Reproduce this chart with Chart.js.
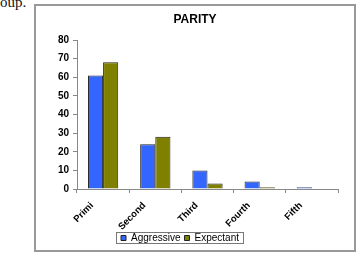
<!DOCTYPE html>
<html>
<head>
<meta charset="utf-8">
<script src="https://cdn.jsdelivr.net/npm/chart.js@4/dist/chart.umd.min.js"></script>
<style>
  html, body { margin: 0; padding: 0; background: #fff; }
  body { width: 359px; height: 254px; position: relative; overflow: hidden; }
  #cut-text {
    position: absolute; left: 0; top: -5px;
    font: 15px "Liberation Serif", "Times New Roman", serif; line-height: 1; color: #111;
  }
  #frame {
    position: absolute; left: 34px; top: 4px;
    width: 318px; height: 244px;
    border: 2px solid #999;
  }
</style>
</head>
<body>
<div id="cut-text">oup.</div>
<div id="frame"><canvas id="parity-chart" width="318" height="244"></canvas></div>
<script>
const categories = ['Primi', 'Second', 'Third', 'Fourth', 'Fifth'];
const aggressive = [61, 24, 10, 4, 1];
const expectant = [68, 28, 3, 1, 0];
const yTicks = [0, 10, 20, 30, 40, 50, 60, 70, 80];

const chartCanvas = document.getElementById('parity-chart');

// タイトルと凡例の位置を調整し、凡例に枠線を描く
const legendFrame = {
    id: 'legendFrame',
    afterLayout(chart) {
        const lg = chart.legend;
        lg.left -= 7;
        lg.right -= 7;
        lg.top += 3;
        lg.bottom += 3;
        const tb = chart.titleBlock;
        tb.left += 8;
        tb.right += 8;
    },
    afterDraw(chart) {
        const boxes = chart.legend.legendHitBoxes;
        if (!boxes || !boxes.length) return;
        const left = Math.min(...boxes.map(b => b.left)) - 5;
        const right = Math.max(...boxes.map(b => b.left + b.width)) + 4;
        const top = Math.min(...boxes.map(b => b.top)) - 1;
        const bottom = Math.max(...boxes.map(b => b.top + b.height));
        const ctx = chart.ctx;
        ctx.save();
        ctx.strokeStyle = '#777';
        ctx.lineWidth = 1;
        ctx.strokeRect(Math.round(left) + 0.5, Math.round(top) + 0.5, Math.round(right - left), Math.round(bottom - top));
        ctx.restore();
    }
};

new Chart(chartCanvas, {
    type: 'bar',
    data: {
        labels: categories,
        datasets: [{
            label: 'Aggressive',
            data: aggressive,
            backgroundColor: '#3366ff',
            borderColor: '#222',
            borderWidth: 1,
            categoryPercentage: 0.58,
            barPercentage: 1.0
        }, {
            label: 'Expectant',
            data: expectant,
            backgroundColor: '#808000',
            borderColor: '#222',
            borderWidth: 1,
            categoryPercentage: 0.58,
            barPercentage: 1.0
        }]
    },
    options: {
        responsive: false,
        animation: false,
        layout: { padding: { left: 0, right: 16, top: 0, bottom: 0 } },
        plugins: {
            title: {
                display: true,
                text: 'PARITY',
                color: '#000',
                font: { family: 'Liberation Sans, Arial, sans-serif', size: 12, weight: 'bold' },
                padding: { top: 6, bottom: 13.6 }
            },
            legend: {
                position: 'bottom',
                labels: {
                    color: '#000',
                    boxWidth: 5,
                    boxHeight: 5,
                    padding: 4,
                    font: { family: 'Liberation Sans, Arial, sans-serif', size: 10 }
                }
            },
            tooltip: { enabled: false }
        },
        scales: {
            x: {
                afterFit(scale) {
                    scale.height = 37;
                    // 回転したラベルが軸の枠で切れないようにする
                    scale._computeLabelArea = () => null;
                },
                grid: { display: true, drawOnChartArea: false, tickLength: 4, color: '#888', offset: true },
                border: { color: '#888' },
                ticks: {
                    color: '#000',
                    autoSkip: false,
                    maxRotation: 45,
                    minRotation: 45,
                    padding: 7,
                    labelOffset: -11,
                    font: { family: 'Liberation Sans, Arial, sans-serif', size: 9.5, weight: 'bold' }
                }
            },
            y: {
                min: yTicks[0],
                max: yTicks[yTicks.length - 1],
                afterFit(scale) { scale.width = 41; },
                afterBuildTicks(scale) { scale.ticks = yTicks.map(v => ({ value: v })); },
                grid: { display: true, drawOnChartArea: false, tickLength: 4, color: '#888' },
                border: { color: '#888' },
                ticks: {
                    color: '#000',
                    padding: 4,
                    font: { family: 'Liberation Sans, Arial, sans-serif', size: 10, weight: 'bold' }
                }
            }
        }
    },
    plugins: [legendFrame]
});
</script>
</body>
</html>
